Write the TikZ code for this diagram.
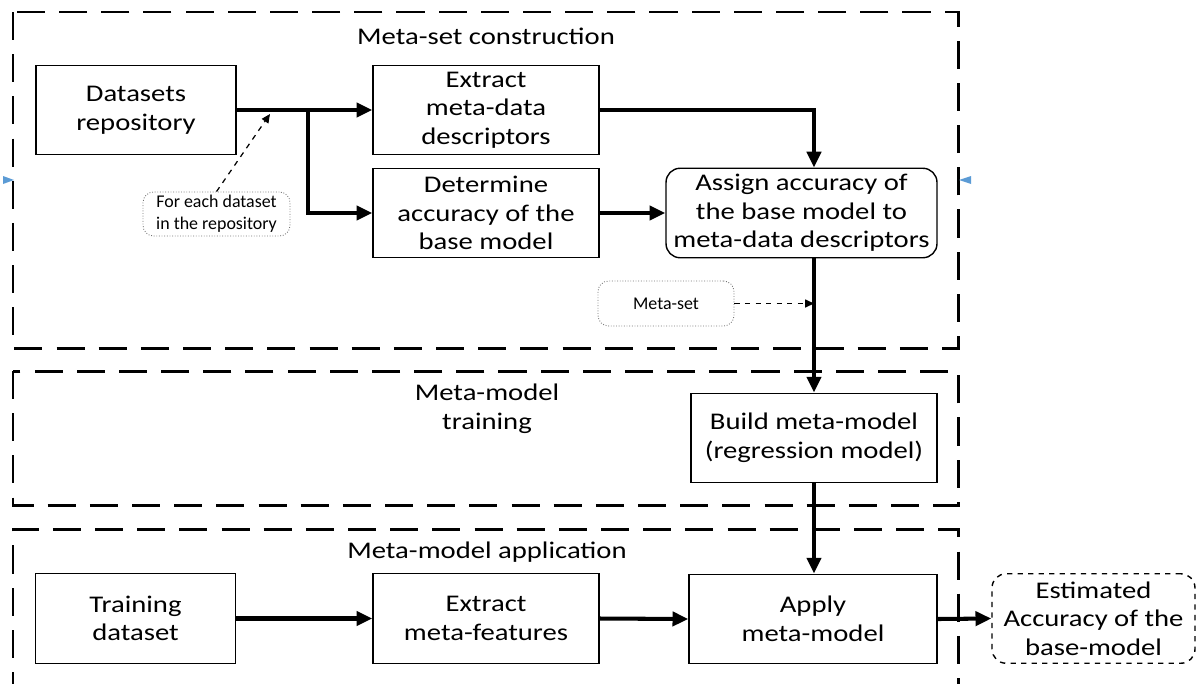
\documentclass[tikz,border=0pt]{standalone}
\usepackage{fontspec}
\setmainfont{Carlito}[FakeStretch=1.2]
\newfontfamily\notefont{Carlito}
\usepackage{xcolor}
\usetikzlibrary{arrows.meta}
\definecolor{markblue}{RGB}{91,155,213}

\begin{document}
\begin{tikzpicture}[
	x=0.02cm,
	y=-0.02cm,
	line join=miter,
	every node/.style={font=\fontsize{13.6}{16.3}\selectfont},
	region/.style={line width=1.7pt,dash pattern=on 16pt off 8pt},
	box/.style={draw,line width=0.8pt,align=center,inner sep=0pt,minimum height=1.79cm},
	rbox/.style={box,rounded corners=8pt},
	note/.style={draw=black!55,densely dotted,line width=0.5pt,rounded corners=6pt,
		align=center,inner sep=0pt,font=\notefont\fontsize{10.2}{12.4}\selectfont},
	flow/.style={line width=2.3pt,-{Triangle[length=9pt,width=8pt]}},
	hint/.style={dashed,line width=0.7pt,-{Triangle[length=5pt,width=4.5pt]}}
	]
	\useasboundingbox (0,0) rectangle (1202,683);
	
	% dashed regions
	\draw[region] (13,12) rectangle (958,348);
	\draw[region] (13,371) rectangle (958,505);
	\draw[region] (13,700) -- (13,529) -- (958,529) -- (958,700);
	\fill[markblue] (3,176) -- (14,180) -- (3,184) -- cycle;
	\fill[markblue] (971,176) -- (959,180) -- (971,184) -- cycle;
	
	\node (tset) at (486,36) {Meta-set construction};
	\node[align=center] (ttrain) at (487,409) {Meta-model\\training};
	\node (tapp) at (487,552) {Meta-model application};
	
	% meta-set construction
	\node[box,minimum width=4cm] (repo) at (136,110) {Datasets\\repository};
	\node[box,minimum width=4.52cm] (extr) at (486,110) {Extract\\meta-data\\descriptors};
	\node[box,minimum width=4.52cm] (det) at (486,213) {Determine\\accuracy of the\\base model};
	\node[rbox,minimum width=5.42cm] (asg) at (801.5,213)
	{Assign accuracy of\\the base model to\\meta-data descriptors};
	\node[note,minimum width=2.94cm,minimum height=0.88cm] (each) at (216.5,214)
	{For each dataset\\in the repository};
	\node[note,minimum width=2.72cm,minimum height=0.9cm] (mset) at (666,303.5) {Meta-set};
	
	% training and application
	\node[box,minimum width=4.92cm] (build) at (814,438) {Build meta-model\\(regression model)};
	\node[box,minimum width=4cm] (train) at (135.5,618.5) {Training\\dataset};
	\node[box,minimum width=4.52cm] (feat) at (486,618.5) {Extract\\meta-features};
	\node[box,minimum width=4.96cm] (apply) at (813,619) {Apply\\meta-model};
	\node[rbox,dashed,minimum width=4.06cm] (est) at (1093.5,618.5)
	{Estimated\\Accuracy of the\\base-model};
	
	\coordinate (split) at (308,110);
	\coordinate (tip) at (270,114);
	
	\draw[flow] (repo.east) -- (extr.west);
	\draw[flow] (split) |- (det.west);
	\draw[flow] (extr.east) -| (asg.north -| build.north);
	\draw[flow] (det.east) -- (asg.west);
	\draw[flow] (asg.south -| build.north) -- (build.north);
	\draw[hint] (each.north) -- (tip);
	\draw[hint] (mset.east) -- (mset.east -| build.north);
	\draw[flow] (build.south) -- (build.south |- apply.north);
	\draw[flow] (train.east) -- (feat.west);
	\draw[flow] (feat.east) -- (apply.west);
	\draw[flow] (apply.east) -- (est.west);
\end{tikzpicture}
\end{document}
